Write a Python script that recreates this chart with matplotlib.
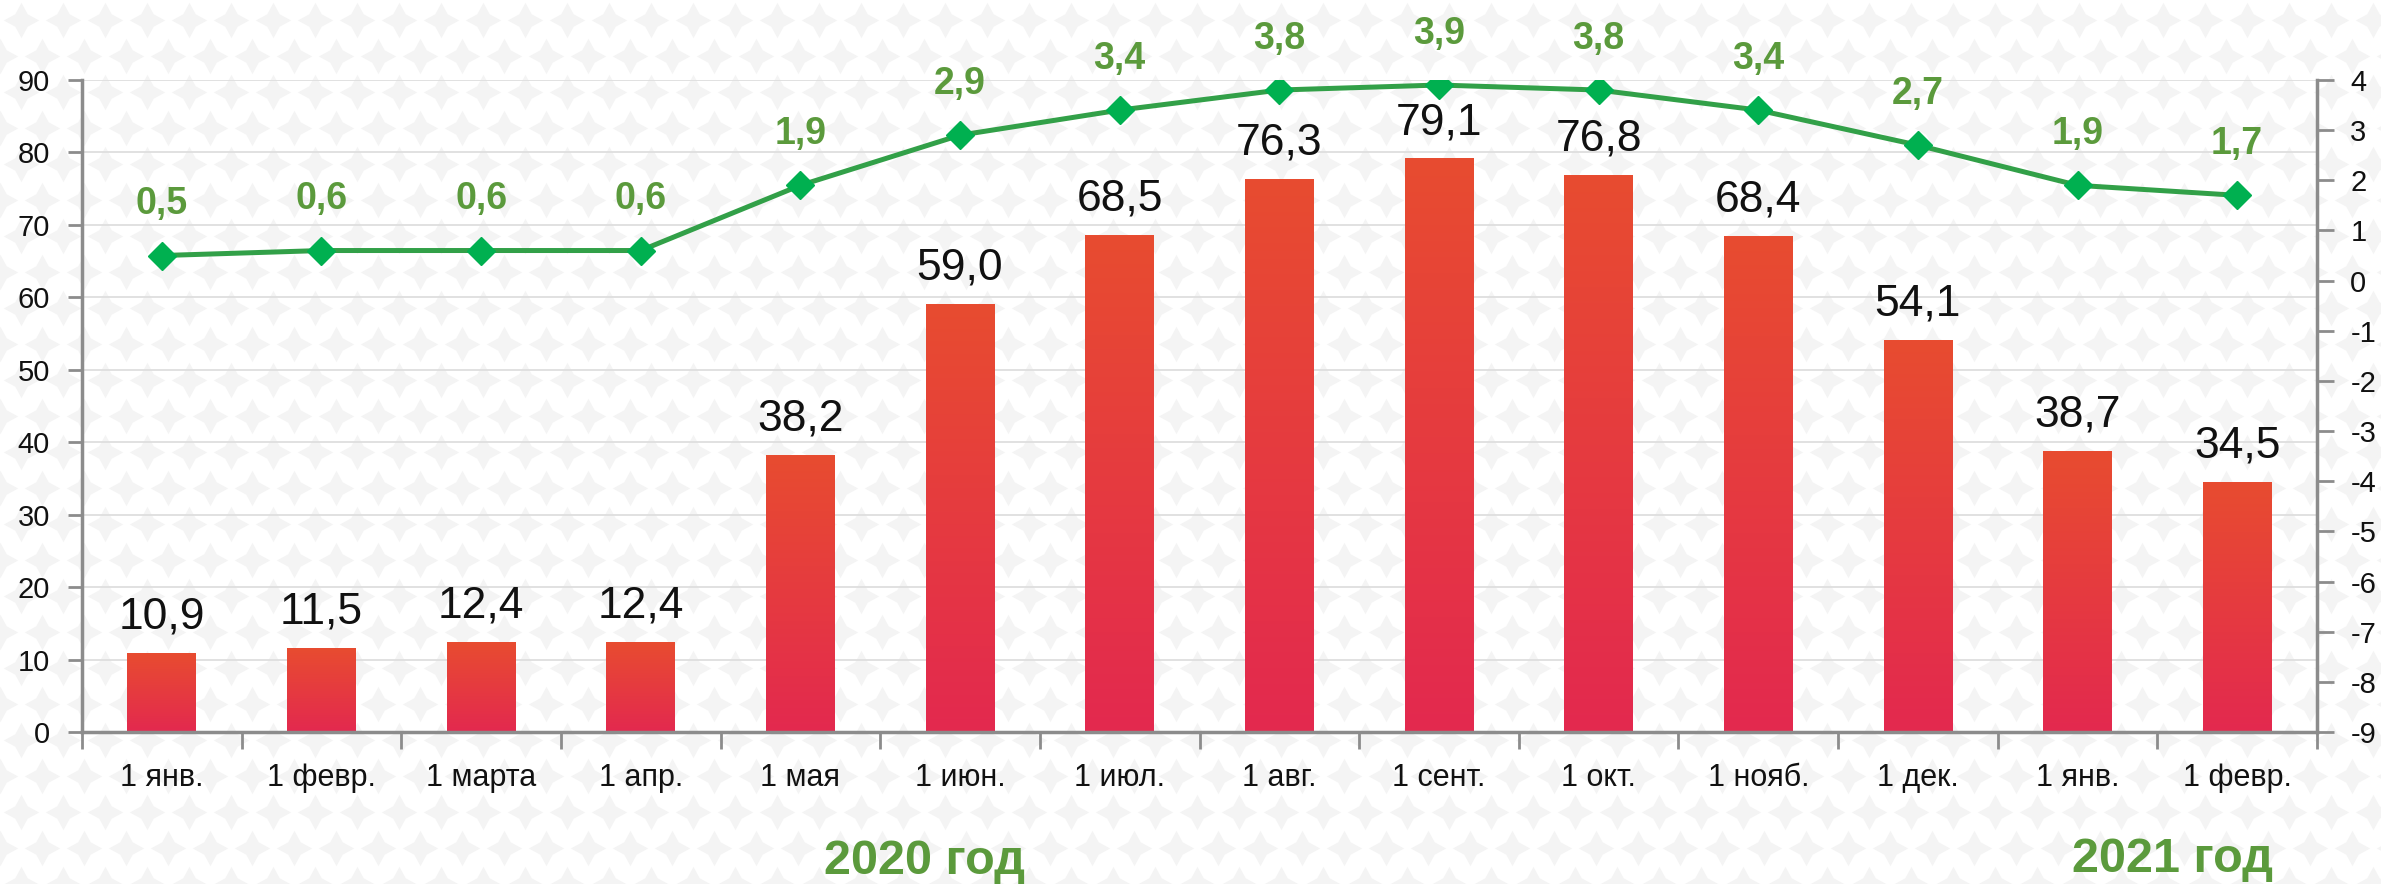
import numpy as np
import matplotlib
matplotlib.use("Agg")
import matplotlib.pyplot as plt
from matplotlib.colors import LinearSegmentedColormap

plt.rcParams['font.family'] = ['Liberation Sans', 'DejaVu Sans']
plt.rcParams['axes.unicode_minus'] = False

# data
categories = ['1 янв.', '1 февр.', '1 марта', '1 апр.', '1 мая', '1 июн.', '1 июл.',
              '1 авг.', '1 сент.', '1 окт.', '1 нояб.', '1 дек.', '1 янв.', '1 февр.']
bar_values = [10.9, 11.5, 12.4, 12.4, 38.2, 59.0, 68.5, 76.3, 79.1, 76.8, 68.4, 54.1, 38.7, 34.5]
line_values = [0.5, 0.6, 0.6, 0.6, 1.9, 2.9, 3.4, 3.8, 3.9, 3.8, 3.4, 2.7, 1.9, 1.7]
left_ticks = list(range(0, 91, 10))
right_ticks = list(range(-9, 5))
year_labels = ['2020 год', '2021 год']

grey = '#8c8c8c'
label_green = '#5b9a3c'
bar_cmap = LinearSegmentedColormap.from_list('bar', ['#e3294f', '#e84c30'])

fig = plt.figure(figsize=(23.81, 8.84), dpi=100)

# faint star pattern behind everything
bg = fig.add_axes([0, 0, 1, 1], zorder=-5)
bg.set_xlim(0, 2381)
bg.set_ylim(0, 884)
bg.axis('off')
gx, gy = [], []
for r, yy in enumerate(np.arange(0, 900, 36)):
    off = 21 if r % 2 else 0
    for xx in np.arange(-21, 2420, 42):
        gx.append(xx + off)
        gy.append(yy)
bg.scatter(gx, gy, marker=(4, 1, 0), s=650, color='#f4f4f4', linewidths=0)

top_px, bot_px = 80, 732
ax = fig.add_axes([82 / 2381, 1 - bot_px / 884, (2317 - 82) / 2381, (bot_px - top_px) / 884])
ax.set_facecolor('none')
x = np.arange(len(categories))
w = 0.43

for xi, v in zip(x, bar_values):
    grad = np.linspace(0, 1, 256).reshape(-1, 1)
    ax.imshow(grad, extent=[xi - w / 2, xi + w / 2, 0, v], origin='lower',
              aspect='auto', cmap=bar_cmap, zorder=2)
    ax.text(xi, v + 2.2, f'{v:.1f}'.replace('.', ','), ha='center', va='bottom',
            fontsize=32, color='#111111', zorder=3)

ax.set_xlim(-0.5, len(categories) - 0.5)
ax.set_ylim(0, 90)
ax.set_yticks(left_ticks)
ax.grid(axis='y', color='#dcdcdc', lw=1.2, zorder=0)
ax.set_axisbelow(True)
ax.set_xticks(x)
ax.set_xticklabels(categories, fontsize=22, color='#111111')
ax.set_xticks(np.arange(-0.5, len(categories), 1), minor=True)
ax.tick_params(axis='x', which='major', length=0, pad=22)
ax.tick_params(axis='x', which='minor', length=12, width=2, color=grey)
ax.tick_params(axis='y', length=10, width=2, color=grey, labelsize=21, labelcolor='#111111', pad=13)
for s in ['top', 'right']:
    ax.spines[s].set_visible(False)
for s in ['left', 'bottom']:
    ax.spines[s].set_color(grey)
    ax.spines[s].set_linewidth(2.5)

ax2 = ax.twinx()
ax2.plot(x, line_values, color='#32a048', lw=3.6, marker='D', markersize=14,
         markerfacecolor='#00b050', markeredgecolor='#00b050', zorder=4)
for xi, v in zip(x, line_values):
    ax2.annotate(f'{v:.1f}'.replace('.', ','), (xi, v), xytext=(0, 24),
                 textcoords='offset points', ha='center', va='bottom',
                 fontsize=27, fontweight='bold', color=label_green)
ax2.set_ylim(-9, 4)
ax2.set_yticks(right_ticks)
ax2.tick_params(axis='y', length=12, width=2, color=grey, labelsize=21, labelcolor='#111111', pad=12)
for s in ['top', 'left', 'bottom']:
    ax2.spines[s].set_visible(False)
ax2.spines['right'].set_color(grey)
ax2.spines['right'].set_linewidth(2.5)

fig.text(924 / 2381, 1 - 862 / 884, year_labels[0], ha='center', va='center',
         fontsize=35, fontweight='bold', color=label_green)
fig.text(2173 / 2381, 1 - 860 / 884, year_labels[1], ha='center', va='center',
         fontsize=35, fontweight='bold', color=label_green)

fig.savefig('out.png', dpi=100)
